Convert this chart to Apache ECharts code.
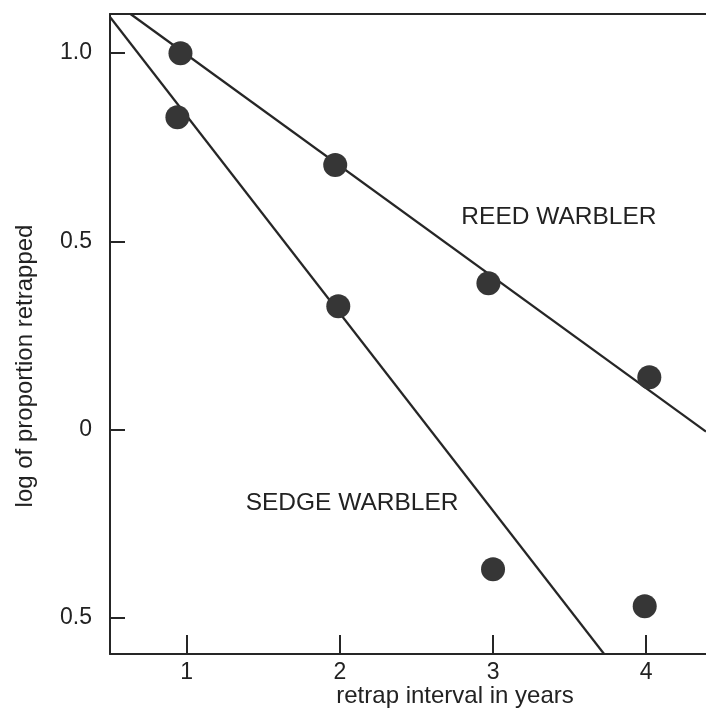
<!DOCTYPE html>
<html>
<head>
<meta charset="utf-8">
<script src="https://cdn.jsdelivr.net/npm/echarts@6/dist/echarts.min.js"></script>
<style>
html,body{margin:0;padding:0;background:#fff;}
#chart{width:706px;height:709px;}
</style>
</head>
<body>
<div id="chart"></div>
<script>
// ---- data ----
var reedPoints = [[0.96, 1.00], [1.97, 0.703], [2.97, 0.389], [4.02, 0.139]];
var sedgePoints = [[0.94, 0.83], [1.99, 0.328], [3.00, -0.371], [3.99, -0.469]];
var reedLine = [[0.634, 1.104], [4.39, -0.005]];
var sedgeLine = [[0.50, 1.096], [3.725, -0.596]];
var xTickValues = [1, 2, 3, 4];
var xTickLabels = ['1', '2', '3', '4'];
var yTickValues = [-0.5, 0, 0.5, 1.0];
var yTickLabels = ['0.5', '0', '0.5', '1.0'];
var seriesLabels = [
  {name: 'REED WARBLER', value: [3.43, 0.564]},
  {name: 'SEDGE WARBLER', value: [2.08, -0.195]}
];
var xTitle = 'retrap interval in years';
var yTitle = 'log of proportion retrapped';

var ink = '#262626';
var textInk = '#222';
var font = 'Liberation Sans, Arial, sans-serif';

var chart = echarts.init(document.getElementById('chart'), null, {renderer: 'canvas'});
chart.setOption({
  backgroundColor: '#fff',
  animation: false,
  grid: {left: 110, right: 0, top: 14, bottom: 55},
  xAxis: [{
    type: 'value', min: 0.5, max: 4.39,
    axisLine: {show: true, onZero: false, lineStyle: {color: ink, width: 2}},
    axisTick: {show: true, inside: true, length: 19, lineStyle: {color: ink, width: 2}, customValues: xTickValues},
    axisLabel: {show: true, customValues: xTickValues, margin: 7,
      formatter: function (v) { return xTickLabels[xTickValues.indexOf(v)]; },
      color: textInk, fontSize: 23, fontFamily: font},
    splitLine: {show: false}
  }, {
    type: 'value', position: 'top', min: 0.5, max: 4.39,
    axisLine: {show: true, onZero: false, lineStyle: {color: ink, width: 2}},
    axisTick: {show: false}, axisLabel: {show: false}, splitLine: {show: false}
  }],
  yAxis: {
    type: 'value', min: -0.596, max: 1.104,
    axisLine: {show: true, onZero: false, lineStyle: {color: ink, width: 2}},
    axisTick: {show: true, inside: true, length: 15, lineStyle: {color: ink, width: 2}, customValues: yTickValues},
    axisLabel: {show: true, customValues: yTickValues, margin: 18,
      formatter: function (v) { return yTickLabels[yTickValues.indexOf(v)]; },
      color: textInk, fontSize: 23, fontFamily: font},
    splitLine: {show: false}
  },
  graphic: [
    {type: 'text', x: 455, y: 696, style: {text: xTitle, fill: textInk, font: '24px ' + font, textAlign: 'center', textVerticalAlign: 'middle'}},
    {type: 'text', x: 25, y: 366, rotation: Math.PI / 2, style: {text: yTitle, fill: textInk, font: '24px ' + font, textAlign: 'center', textVerticalAlign: 'middle'}}
  ],
  series: [
    {type: 'line', data: reedLine, symbol: 'none', lineStyle: {color: ink, width: 2.2}, clip: true, z: 2},
    {type: 'line', data: sedgeLine, symbol: 'none', lineStyle: {color: ink, width: 2.2}, clip: true, z: 2},
    {type: 'scatter', data: reedPoints, symbolSize: 24, itemStyle: {color: '#363636', opacity: 1}, z: 3},
    {type: 'scatter', data: sedgePoints, symbolSize: 24, itemStyle: {color: '#363636', opacity: 1}, z: 3},
    {type: 'scatter', data: seriesLabels, symbolSize: 0, silent: true, itemStyle: {opacity: 1},
      label: {show: true, position: 'inside', formatter: '{b}', color: textInk, opacity: 1, fontSize: 24.5, fontFamily: font}}
  ]
});
</script>
</body>
</html>
